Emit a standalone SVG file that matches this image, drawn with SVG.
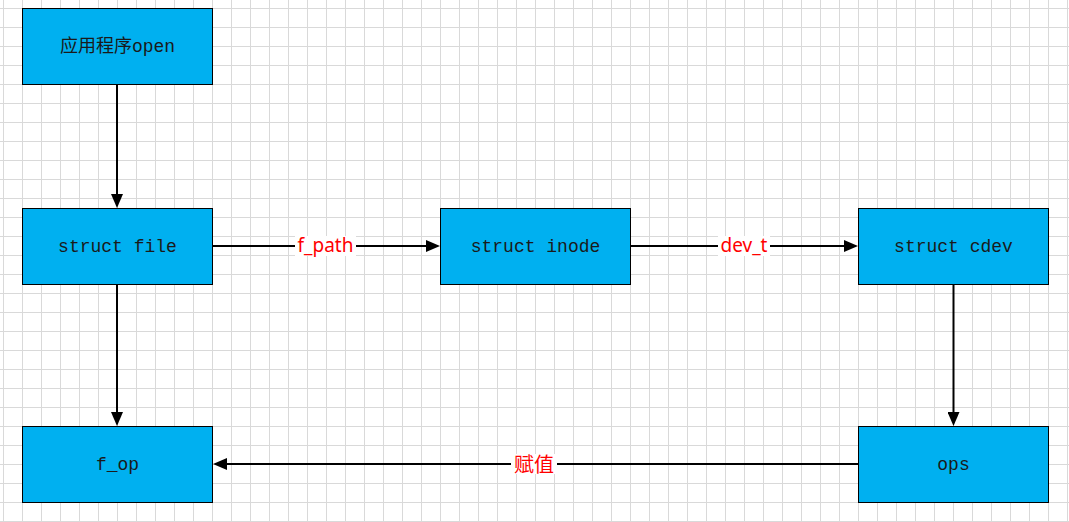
<svg xmlns="http://www.w3.org/2000/svg" width="1069" height="522" viewBox="0 0 1069 522">
  <defs>
    <pattern id="grid" x="3" y="8" width="19" height="19" patternUnits="userSpaceOnUse">
      <path d="M0,0.5 H19 M0.5,0 V19" fill="none" stroke="#d9d9d9" stroke-width="1"/>
    </pattern>
    <marker id="arrow" viewBox="0 0 14 12" refX="6" refY="6" markerWidth="14" markerHeight="12" markerUnits="userSpaceOnUse" orient="auto">
      <path d="M0,0 L14,6 L0,12 z" fill="#000"/>
    </marker>
    <style>
      .box { fill: #00b0f0; stroke: #000; stroke-width: 1; }
      .txt { font-family: "Liberation Mono", "Noto Sans CJK SC", monospace; font-size: 18px; fill: #1a1a1a; text-anchor: middle; dominant-baseline: central; }
      .conn { stroke: #000; stroke-width: 2; fill: none; marker-end: url(#arrow); }
      .lblbg { fill: #fff; }
      .lbl { font-family: "Noto Sans", "Noto Sans CJK SC", sans-serif; font-size: 19px; fill: #ff0000; text-anchor: middle; dominant-baseline: central; }
      .lblcjk { font-family: "Noto Sans CJK SC", sans-serif; font-size: 20px; fill: #ff0000; text-anchor: middle; dominant-baseline: central; }
    </style>
  </defs>
  <rect x="0" y="0" width="1069" height="522" fill="#fff"/>
  <rect x="0" y="0" width="1069" height="522" fill="url(#grid)"/>

  <g id="connectors">
    <line class="conn" x1="117" y1="85" x2="117" y2="200"/>
    <line class="conn" x1="117" y1="285" x2="117" y2="418"/>
    <line class="conn" x1="213" y1="246" x2="432" y2="246"/>
    <line class="conn" x1="631" y1="246" x2="850" y2="246"/>
    <line class="conn" x1="953.5" y1="285" x2="953.5" y2="418"/>
    <line class="conn" x1="858" y1="464" x2="221" y2="464"/>
    <g id="label-f_path">
      <rect class="lblbg" x="295" y="236" width="61" height="20"/>
      <text class="lbl" x="325.5" y="245">f_path</text>
    </g>
    <g id="label-dev_t">
      <rect class="lblbg" x="718" y="236" width="52" height="20"/>
      <text class="lbl" x="744" y="245">dev_t</text>
    </g>
    <g id="label-fuzhi">
      <rect class="lblbg" x="511" y="454" width="46" height="20"/>
      <text class="lblcjk" x="534" y="463">赋值</text>
    </g>
  </g>

  <g id="node-app">
    <rect class="box" x="22.5" y="8.5" width="190" height="76"/>
    <text class="txt" x="117.5" y="46.5">应用程序open</text>
  </g>
  <g id="node-file">
    <rect class="box" x="22.5" y="208.5" width="190" height="76"/>
    <text class="txt" x="117.5" y="246.5">struct file</text>
  </g>
  <g id="node-inode">
    <rect class="box" x="440.5" y="208.5" width="190" height="76"/>
    <text class="txt" x="535.5" y="246.5">struct inode</text>
  </g>
  <g id="node-cdev">
    <rect class="box" x="858.5" y="208.5" width="190" height="76"/>
    <text class="txt" x="953.5" y="246.5">struct cdev</text>
  </g>
  <g id="node-fop">
    <rect class="box" x="22.5" y="426.5" width="190" height="76"/>
    <text class="txt" x="117.5" y="464.5">f_op</text>
  </g>
  <g id="node-ops">
    <rect class="box" x="858.5" y="426.5" width="190" height="76"/>
    <text class="txt" x="953.5" y="464.5">ops</text>
  </g>
</svg>
